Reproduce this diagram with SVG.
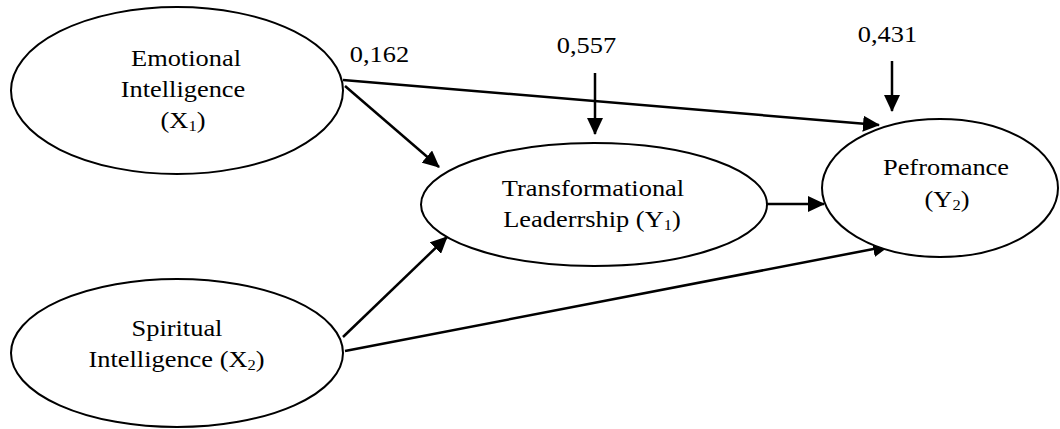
<svg xmlns="http://www.w3.org/2000/svg" width="1060" height="429" viewBox="0 0 1060 429">
<defs>
<style>
.node ellipse{fill:#fff;stroke:#000;stroke-width:2}
text{font-family:"Liberation Serif",serif;font-size:24px;fill:#000;text-anchor:middle}
.sub{font-size:15px}
.edge{stroke:#000;stroke-width:2.5;fill:none;marker-end:url(#arr)}
</style>
<marker id="arr" markerUnits="userSpaceOnUse" markerWidth="17" markerHeight="16" refX="16" refY="8" orient="auto">
<path d="M0,0 L17,8 L0,16 z" fill="#000"/>
</marker>
</defs>
<rect width="1060" height="429" fill="#fff"/>
<g id="connectors">
<line class="edge" x1="343" y1="80" x2="879" y2="125"/>
<line class="edge" x1="345" y1="86" x2="439" y2="167"/>
<line class="edge" x1="343" y1="337" x2="447" y2="237"/>
<line class="edge" x1="345" y1="351" x2="889" y2="246"/>
<line class="edge" x1="767" y1="204" x2="824" y2="204"/>
<line class="edge" x1="595" y1="73" x2="595" y2="134"/>
<line class="edge" x1="892" y1="61" x2="892" y2="111"/>
</g>
<g id="labels">
<text transform="translate(379.5,62) scale(1.1,1)">0,162</text>
<text transform="translate(586.5,53) scale(1.1,1)">0,557</text>
<text transform="translate(887.5,42) scale(1.1,1)">0,431</text>
</g>
<g id="node-x1" class="node">
<ellipse cx="177" cy="90.5" rx="166" ry="83.5"/>
<text transform="translate(186,66) scale(1.1,1)">Emotional</text>
<text transform="translate(183,97) scale(1.1,1)">Intelligence</text>
<text transform="translate(183,128) scale(1.1,1)">(X<tspan class="sub" dy="3">1</tspan><tspan dy="-3">)</tspan></text>
</g>
<g id="node-x2" class="node">
<ellipse cx="177" cy="353" rx="166" ry="74"/>
<text transform="translate(177,336) scale(1.1,1)">Spiritual</text>
<text transform="translate(176.5,367) scale(1.1,1)">Intelligence (X<tspan class="sub" dy="3">2</tspan><tspan dy="-3">)</tspan></text>
</g>
<g id="node-y1" class="node">
<ellipse cx="594" cy="204.5" rx="173" ry="61.5"/>
<text transform="translate(593,196) scale(1.1,1)">Transformational</text>
<text transform="translate(592,227) scale(1.1,1)">Leaderrship (Y<tspan class="sub" dy="3">1</tspan><tspan dy="-3">)</tspan></text>
</g>
<g id="node-y2" class="node">
<ellipse cx="940" cy="188" rx="118" ry="69"/>
<text transform="translate(946,175) scale(1.1,1)">Pefromance</text>
<text transform="translate(947,207) scale(1.1,1)">(Y<tspan class="sub" dy="3">2</tspan><tspan dy="-3">)</tspan></text>
</g>
</svg>
